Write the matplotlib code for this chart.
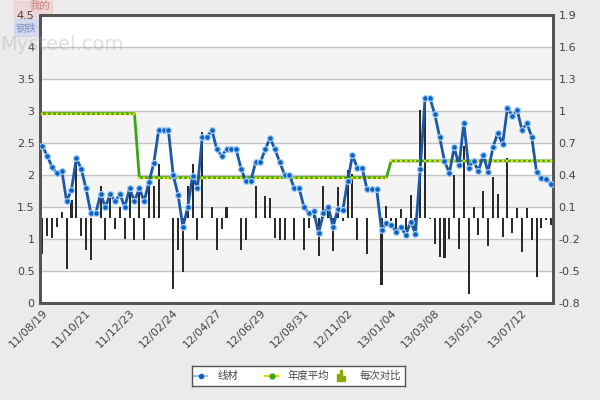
import numpy as np
import matplotlib.pyplot as plt
from matplotlib.lines import Line2D
from matplotlib.patches import Rectangle

plt.rcParams['font.family'] = ['DejaVu Sans', 'Noto Sans CJK SC']

# weekly prices (left axis)
wire_rod = [2.45, 2.30, 2.12, 2.03, 2.07, 1.59, 1.77, 2.26, 2.10, 1.79,
            1.40, 1.40, 1.70, 1.50, 1.70, 1.59, 1.70, 1.50, 1.79, 1.59,
            1.79, 1.59, 1.89, 2.19, 2.70, 2.70, 2.70, 2.00, 1.69, 1.19,
            1.50, 1.99, 1.79, 2.60, 2.60, 2.70, 2.40, 2.30, 2.40, 2.40,
            2.40, 2.10, 1.90, 1.90, 2.20, 2.20, 2.40, 2.58, 2.40, 2.20,
            2.00, 2.00, 1.79, 1.79, 1.50, 1.40, 1.44, 1.09, 1.40, 1.50,
            1.19, 1.47, 1.45, 1.90, 2.31, 2.11, 2.11, 1.78, 1.78, 1.78,
            1.14, 1.25, 1.22, 1.11, 1.19, 1.06, 1.27, 1.08, 2.10, 3.21,
            3.20, 2.95, 2.59, 2.22, 2.03, 2.43, 2.15, 2.82, 2.11, 2.22,
            2.06, 2.31, 2.05, 2.43, 2.66, 2.48, 3.05, 2.92, 3.02, 2.70,
            2.81, 2.60, 2.05, 1.96, 1.94, 1.86]

# yearly average (flat per year)
year_avg = [2.96] * 20 + [1.96] * 52 + [2.22] * 34

# change vs previous week (right axis)
change = [-0.34, -0.17, -0.19, -0.09, 0.05, -0.48, 0.17, 0.52, -0.17, -0.30,
          -0.40, 0.0, 0.30, -0.21, 0.19, -0.11, 0.10, -0.20, 0.28, -0.21,
          0.28, -0.21, 0.30, 0.30, 0.50, 0.0, 0.0, -0.67, -0.30, -0.51,
          0.30, 0.50, -0.21, 0.80, 0.0, 0.10, -0.30, -0.11, 0.10, 0.0,
          0.0, -0.30, -0.21, 0.0, 0.30, 0.0, 0.20, 0.18, -0.19, -0.21,
          -0.21, 0.0, -0.21, 0.0, -0.30, -0.10, 0.04, -0.36, 0.30, 0.10,
          -0.31, 0.29, -0.03, 0.45, 0.41, -0.21, 0.0, -0.34, 0.0, 0.0,
          -0.63, 0.11, -0.03, -0.11, 0.08, -0.12, 0.21, -0.19, 1.01, 1.11,
          -0.01, -0.25, -0.37, -0.38, -0.20, 0.40, -0.29, 0.67, -0.72, 0.10,
          -0.16, 0.25, -0.27, 0.38, 0.22, -0.18, 0.56, -0.14, 0.09, -0.32,
          0.09, -0.21, -0.56, -0.10, -0.02, -0.07]

date_labels = ['11/08/19', '11/10/21', '11/12/23', '12/02/24', '12/04/27', '12/06/29',
               '12/08/31', '12/11/02', '13/01/04', '13/03/08', '13/05/10', '13/07/12']

left_ticks = [0, 0.5, 1, 1.5, 2, 2.5, 3, 3.5, 4, 4.5]
right_ticks = [-0.8, -0.5, -0.2, 0.1, 0.4, 0.7, 1, 1.3, 1.6, 1.9]

x = np.arange(len(wire_rod))

fig = plt.figure(figsize=(6, 4), dpi=100, facecolor='#ebebeb')

# faded watermark behind everything, top-left
fig.patches.append(Rectangle((14 / 600, 1 - 17 / 400), 38 / 600, 16 / 400,
                             transform=fig.transFigure, color='#f0c8c8', alpha=0.6,
                             zorder=-2))
fig.patches.append(Rectangle((14 / 600, 1 - 36 / 400), 38 / 600, 17 / 400,
                             transform=fig.transFigure, color='#c8d0ee', alpha=0.6,
                             zorder=-2))
fig.text(40 / 600, 1 - 5.5 / 400, '我的', fontsize=7.5, color='#d08080',
         ha='center', va='center', family=['Noto Sans CJK SC'], zorder=-1)
fig.text(26 / 600, 1 - 29 / 400, '钢铁', fontsize=7.5, color='#8090c8',
         ha='center', va='center', family=['Noto Sans CJK SC'], zorder=-1)

ax2 = fig.add_axes([40 / 600, 97 / 400, 513 / 600, 288 / 400])
ax = ax2.twinx()
# left-scale lines must sit above the bars, so swap order
ax.yaxis.tick_left()
ax2.yaxis.tick_right()
ax.set_zorder(ax2.get_zorder() + 1)
ax.patch.set_visible(False)

# background bands + grid on the bar axes
ax2.set_facecolor('white')
for i in range(len(right_ticks) - 1):
    if i % 2 == 1:
        ax2.axhspan(right_ticks[i], right_ticks[i + 1], color='#f4f4f4', zorder=0, lw=0)
for t in right_ticks[1:-1]:
    ax2.axhline(t, color='#c4c4c4', lw=1, zorder=1)

ax2.bar(x, change, width=0.42, color='#2b2b2b', zorder=2)
ax2.set_ylim(-0.8, 1.9)
ax2.set_yticks(right_ticks)
ax2.set_yticklabels(['%g' % t for t in right_ticks])

ax.plot(x, year_avg, color='#3aa615', lw=2, zorder=3,
        marker='s', markersize=1.6, markerfacecolor='#e8dc00', markeredgecolor='#e8dc00',
        markeredgewidth=0.3)
ax.plot(x, wire_rod, color='#1c58a8', lw=2, zorder=4,
        marker='o', markersize=4.2, markerfacecolor='#1060c0', markeredgecolor='#9fd0ff',
        markeredgewidth=0.9)
ax.set_ylim(0, 4.5)
ax.set_yticks(left_ticks)
ax.set_yticklabels(['%g' % t for t in left_ticks])
ax.set_xlim(-0.5, len(wire_rod) - 0.6)

tick_pos = np.arange(0, len(date_labels) * 9, 9)
ax2.set_xticks(tick_pos)
ax2.set_xticklabels(date_labels, rotation=45, ha='right', va='top',
                    rotation_mode='anchor')

for a in (ax, ax2):
    a.tick_params(length=0, labelsize=8, colors='#444444', pad=4)
    for s in a.spines.values():
        s.set_color('#555555')
        s.set_linewidth(2)
ax2.tick_params(axis='x', pad=3)

# legend box
lax = fig.add_axes([192 / 600, 14 / 400, 213 / 600, 20 / 400])
lax.set_xlim(0, 213)
lax.set_ylim(0, 20)
lax.set_xticks([])
lax.set_yticks([])
lax.set_facecolor('white')
for s in lax.spines.values():
    s.set_color('#555555')
    s.set_linewidth(1)
lax.add_line(Line2D([2, 15], [10, 10], color='#8ec5f5', lw=1.5))
lax.plot([8.5], [10], 'o', color='#1060c0', markersize=3)
lax.text(26, 10, '线材', fontsize=7.5, color='#444444', va='center',
         family=['Noto Sans CJK SC'])
lax.add_line(Line2D([73, 86], [10, 10], color='#e2d800', lw=1.5))
lax.plot([79.5], [10], 'o', color='#3aa615', markersize=3.5)
lax.text(96, 10, '年度平均', fontsize=7.5, color='#444444', va='center',
         family=['Noto Sans CJK SC'])
for bx, bh in [(145, 7), (148, 11), (151, 5)]:
    lax.add_patch(Rectangle((bx, 5), 2.2, bh, color='#8aa800'))
lax.text(168, 10, '每次对比', fontsize=7.5, color='#444444', va='center',
         family=['Noto Sans CJK SC'])

# faded site name drawn over the plot corner
fig.text(0, 1 - 44 / 400, 'Mysteel.com', fontsize=14, color='#999999', alpha=0.3,
         va='center', zorder=10)

fig.savefig('out.png', dpi=100, facecolor=fig.get_facecolor())
